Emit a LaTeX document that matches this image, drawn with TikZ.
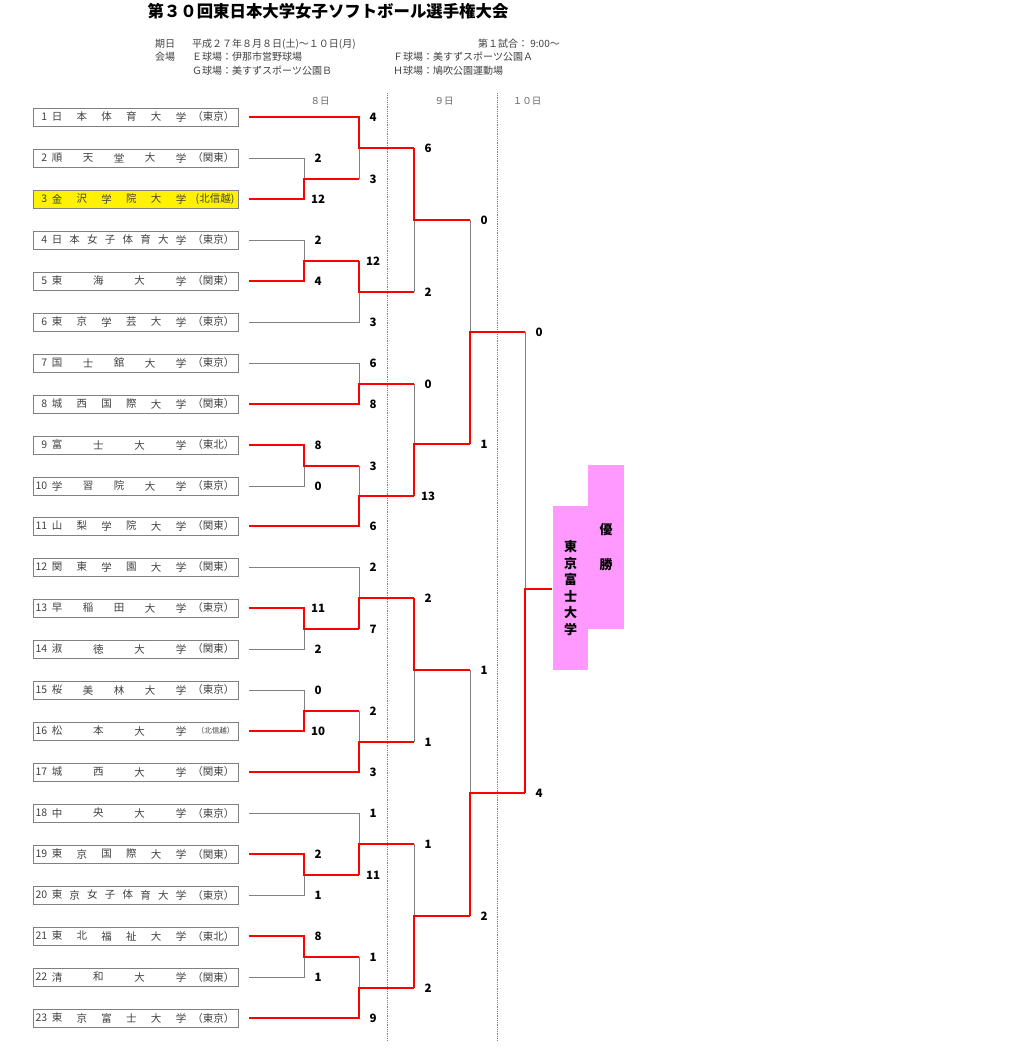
\documentclass[tikz,border=0pt]{standalone}
\usepackage{fontspec}
\setmainfont{Noto Sans CJK JP}
\usetikzlibrary{calc}

\definecolor{champpink}{HTML}{FF99FF}
\definecolor{boxline}{HTML}{808080}

\tikzset{
	teambox/.style={draw=boxline, line width=1pt, minimum width=205pt, minimum height=18pt, inner sep=0pt},
	teamtext/.style={font=\fontsize{10.5}{11}\selectfont, text=black!75, inner sep=0pt},
	headtext/.style={font=\fontsize{10}{11}\selectfont, text=black!75, inner sep=0pt, anchor=west},
	daytext/.style={font=\fontsize{9.5}{10}\selectfont, text=black!60, inner sep=0pt},
	score/.style={font=\fontsize{11.5}{12}\selectfont\bfseries, inner sep=0pt},
	win/.style={red, line width=2pt},
	lose/.style={gray, line width=1pt},
	dayline/.style={gray, densely dotted, line width=0.8pt},
	champbox/.style={fill=champpink, inner sep=0pt, align=center, font=\fontsize{13}{16.6}\selectfont\bfseries}
}

% team box: [options]{no.}{name, one char per item}{region}
\newcommand{\team}[4][]{%
	\node[teambox,#1] (t#2) at (135.5,{round(117+(#2-1)*40.95)}) {};
	\node[teamtext,anchor=east] (t#2-no) at ([xshift=15pt]t#2.west) {#2};
	\gdef\nch{0}%
	\foreach \c in {#3} {\xdef\nch{\number\numexpr\nch+1\relax}}%
	\foreach \c [count=\k] in {#3}
		\node[teamtext] (t#2-\k) at ([xshift={24.5+(\k-1)*124/(\nch-1)}]t#2.west) {\c};
	\node[teamtext,anchor=east] (t#2-r) at ([xshift=-4pt]t#2.east) {#4};
	\coordinate (p#2) at ([xshift=10pt]t#2.east);
}

% game: [split]{name}{top}{bottom}{x}{next x}{top score}{bottom score}
\newcommand{\game}[8][0.5]{%
	\coordinate (#2-x) at (#5,0);
	\coordinate (#2-n) at (#6,0);
	\coordinate (#2-t) at (#3 -| #2-x);
	\coordinate (#2-b) at (#4 -| #2-x);
	\pgfpointanchor{#2-t}{center}\pgfgetlastxy{\gx}{\gty}%
	\pgfpointanchor{#2-b}{center}\pgfgetlastxy{\gx}{\gby}%
	\pgfmathsetmacro\gmy{-round(\gty+#1*(\gby-\gty))}%
	\coordinate (#2-m) at (#5,\gmy);
	\coordinate (#2) at (#2-m -| #2-n);
	\ifnum#7>#8
		\draw[lose] (#4) -- (#2-b) -- (#2-m);
		\draw[win] (#3) -- (#2-t) -- (#2-m) -- (#2);
	\else
		\draw[lose] (#3) -- (#2-t) -- (#2-m);
		\draw[win] (#4) -- (#2-b) -- (#2-m) -- (#2);
	\fi
	\node[score] (#2-s1) at ([xshift=14pt]#2-t) {#7};
	\node[score] (#2-s2) at ([xshift=14pt]#2-b) {#8};
}

\begin{document}
\begin{tikzpicture}[x=1pt,y=-1pt]
	\useasboundingbox (0,0) rectangle (1024,1052);

	\node[font=\fontsize{16.4}{17}\selectfont\bfseries, inner sep=0pt] (title) at (328,11) {第３０回東日本大学女子ソフトボール選手権大会};

	\node[headtext] (date-k) at (155,44) {期日};
	\node[headtext] (date) at (192,44) {平成２７年８月８日(土)～１０日(月)};
	\node[headtext, anchor=east] (start) at (560,44) {第１試合：\ 9:00～};
	\node[headtext] (site-k) at (155,57) {会場};
	\node[headtext] (site-e) at (192,57) {Ｅ球場：伊那市営野球場};
	\node[headtext] (site-f) at (393,57) {Ｆ球場：美すずスポーツ公園Ａ};
	\node[headtext] (site-g) at (192,71) {Ｇ球場：美すずスポーツ公園Ｂ};
	\node[headtext] (site-h) at (393,71) {Ｈ球場：鳩吹公園運動場};

	\node[daytext] (d8) at (320,101) {８日};
	\node[daytext] (d9) at (444,101) {９日};
	\node[daytext] (d10) at (527,101) {１０日};
	\draw[dayline] (387,93) -- (387,1040);
	\draw[dayline] (497,93) -- (497,1040);

	\team{1}{日,本,体,育,大,学}{（東京）}
	\team{2}{順,天,堂,大,学}{（関東）}
	\team[fill=yellow]{3}{金,沢,学,院,大,学}{(北信越)}
	\team{4}{日,本,女,子,体,育,大,学}{（東京）}
	\team{5}{東,海,大,学}{（関東）}
	\team{6}{東,京,学,芸,大,学}{（東京）}
	\team{7}{国,士,舘,大,学}{（東京）}
	\team{8}{城,西,国,際,大,学}{（関東）}
	\team{9}{富,士,大,学}{（東北）}
	\team{10}{学,習,院,大,学}{（東京）}
	\team{11}{山,梨,学,院,大,学}{（関東）}
	\team{12}{関,東,学,園,大,学}{（関東）}
	\team{13}{早,稲,田,大,学}{（東京）}
	\team{14}{淑,徳,大,学}{（関東）}
	\team{15}{桜,美,林,大,学}{（東京）}
	\team{16}{松,本,大,学}{{\fontsize{7.5}{8}\selectfont（北信越）}}
	\team{17}{城,西,大,学}{（関東）}
	\team{18}{中,央,大,学}{（東京）}
	\team{19}{東,京,国,際,大,学}{（関東）}
	\team{20}{東,京,女,子,体,育,大,学}{（東京）}
	\team{21}{東,北,福,祉,大,学}{（東北）}
	\team{22}{清,和,大,学}{（関東）}
	\team{23}{東,京,富,士,大,学}{（東京）}

	% 8日
	\game{g23}{p2}{p3}{304}{359}{2}{12}
	\game{g45}{p4}{p5}{304}{359}{2}{4}
	\game{g910}{p9}{p10}{304}{359}{8}{0}
	\game{g1314}{p13}{p14}{304}{359}{11}{2}
	\game{g1516}{p15}{p16}{304}{359}{0}{10}
	\game{g1920}{p19}{p20}{304}{359}{2}{1}
	\game{g2122}{p21}{p22}{304}{359}{8}{1}

	\game{ga}{p1}{g23}{359}{414}{4}{3}
	\game{gb}{g45}{p6}{359}{414}{12}{3}
	\game{gc}{p7}{p8}{359}{414}{6}{8}
	\game{gd}{g910}{p11}{359}{414}{3}{6}
	\game{ge}{p12}{g1314}{359}{414}{2}{7}
	\game{gf}{g1516}{p17}{359}{414}{2}{3}
	\game{gg}{p18}{g1920}{359}{414}{1}{11}
	\game{gh}{g2122}{p23}{359}{414}{1}{9}

	% 9日
	\game{gi}{ga}{gb}{414}{470}{6}{2}
	\game[0.54]{gj}{gc}{gd}{414}{470}{0}{13}
	\game{gk}{ge}{gf}{414}{470}{2}{1}
	\game{gl}{gg}{gh}{414}{470}{1}{2}

	\game{gm}{gi}{gj}{470}{525}{0}{1}
	\game{gn}{gk}{gl}{470}{525}{1}{2}

	% 10日
	\game[0.557]{go}{gm}{gn}{525}{552}{0}{4}

	\node[champbox, minimum width=36pt, minimum height=164pt, font=\fontsize{13}{35}\selectfont\bfseries] (title-win) at (606,547) {優\\勝};
	\node[champbox, minimum width=35pt, minimum height=164pt] (champ) at (570.5,588) {東\\京\\富\\士\\大\\学};
\end{tikzpicture}
\end{document}
